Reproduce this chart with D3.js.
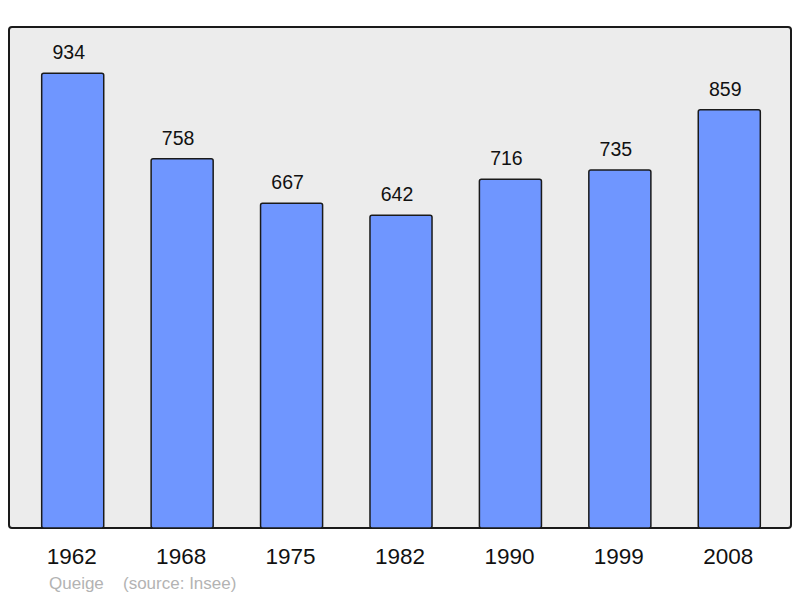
<!DOCTYPE html>
<html>
<head>
<meta charset="utf-8">
<script src="https://cdn.jsdelivr.net/npm/d3@7"></script>
<style>
  body { margin: 0; background: #fff; }
  text { font-family: "Liberation Sans", Arial, sans-serif; }
</style>
</head>
<body>
<div class="graph"></div>
<script>
var years = ["1962", "1968", "1975", "1982", "1990", "1999", "2008"]
var population = [934, 758, 667, 642, 716, 735, 859]
var commune = "Queige"
var source = "(source: Insee)"

var width = 800, height = 598

var svg = d3.select(".graph").append("svg")
    .attr("width", width).attr("height", height)

// panel
svg.append("rect")
    .attr("x", 9).attr("y", 27)
    .attr("width", 782).attr("height", 501)
    .attr("rx", 3)
    .attr("fill", "#ececec")
    .attr("stroke", "#1a1a1a")
    .attr("stroke-width", 2)

var x = d3.scaleBand()
    .domain(years)
    .range([18, 784])
    .paddingInner(0.433)
    .paddingOuter(0.2165)

var y = d3.scaleLinear()
    .domain([0, 1000])
    .range([528, 41])

var bars = svg.append("g")

bars.selectAll("rect")
    .data(population)
    .enter().append("rect")
    .attr("x", function(d, i) { return x(years[i]) })
    .attr("y", function(d) { return y(d) })
    .attr("width", x.bandwidth())
    .attr("height", function(d) { return y(0) - y(d) })
    .attr("rx", 2)
    .attr("fill", "#6f96ff")
    .attr("stroke", "#1a1a1a")
    .attr("stroke-width", 1.5)

// value labels sit a little left of the bar centre
bars.selectAll(".val")
    .data(population)
    .enter().append("text")
    .attr("class", "val")
    .attr("x", function(d, i) { return x(years[i]) + x.bandwidth() / 2 - 4 })
    .attr("y", function(d) { return y(d) - 14 })
    .attr("text-anchor", "middle")
    .attr("font-size", 19.5)
    .attr("fill", "#111")
    .text(function(d) { return d })

// axis with year labels only
var xAxis = d3.axisBottom(x).tickSize(0).tickPadding(20)
var ax = svg.append("g")
    .attr("transform", "translate(0,528)")
    .call(xAxis)
ax.select(".domain").remove()
ax.selectAll("text")
    .attr("dx", -1)
    .attr("font-size", 22.5)
    .attr("fill", "#111")
    .style("font-family", "'Liberation Sans', Arial, sans-serif")

// source line
svg.append("text")
    .attr("x", 49).attr("y", 589)
    .attr("font-size", 17)
    .attr("fill", "#b3b3b3")
    .text(commune)

svg.append("text")
    .attr("x", 123).attr("y", 589)
    .attr("font-size", 17)
    .attr("fill", "#b3b3b3")
    .text(source)
</script>
</body>
</html>
